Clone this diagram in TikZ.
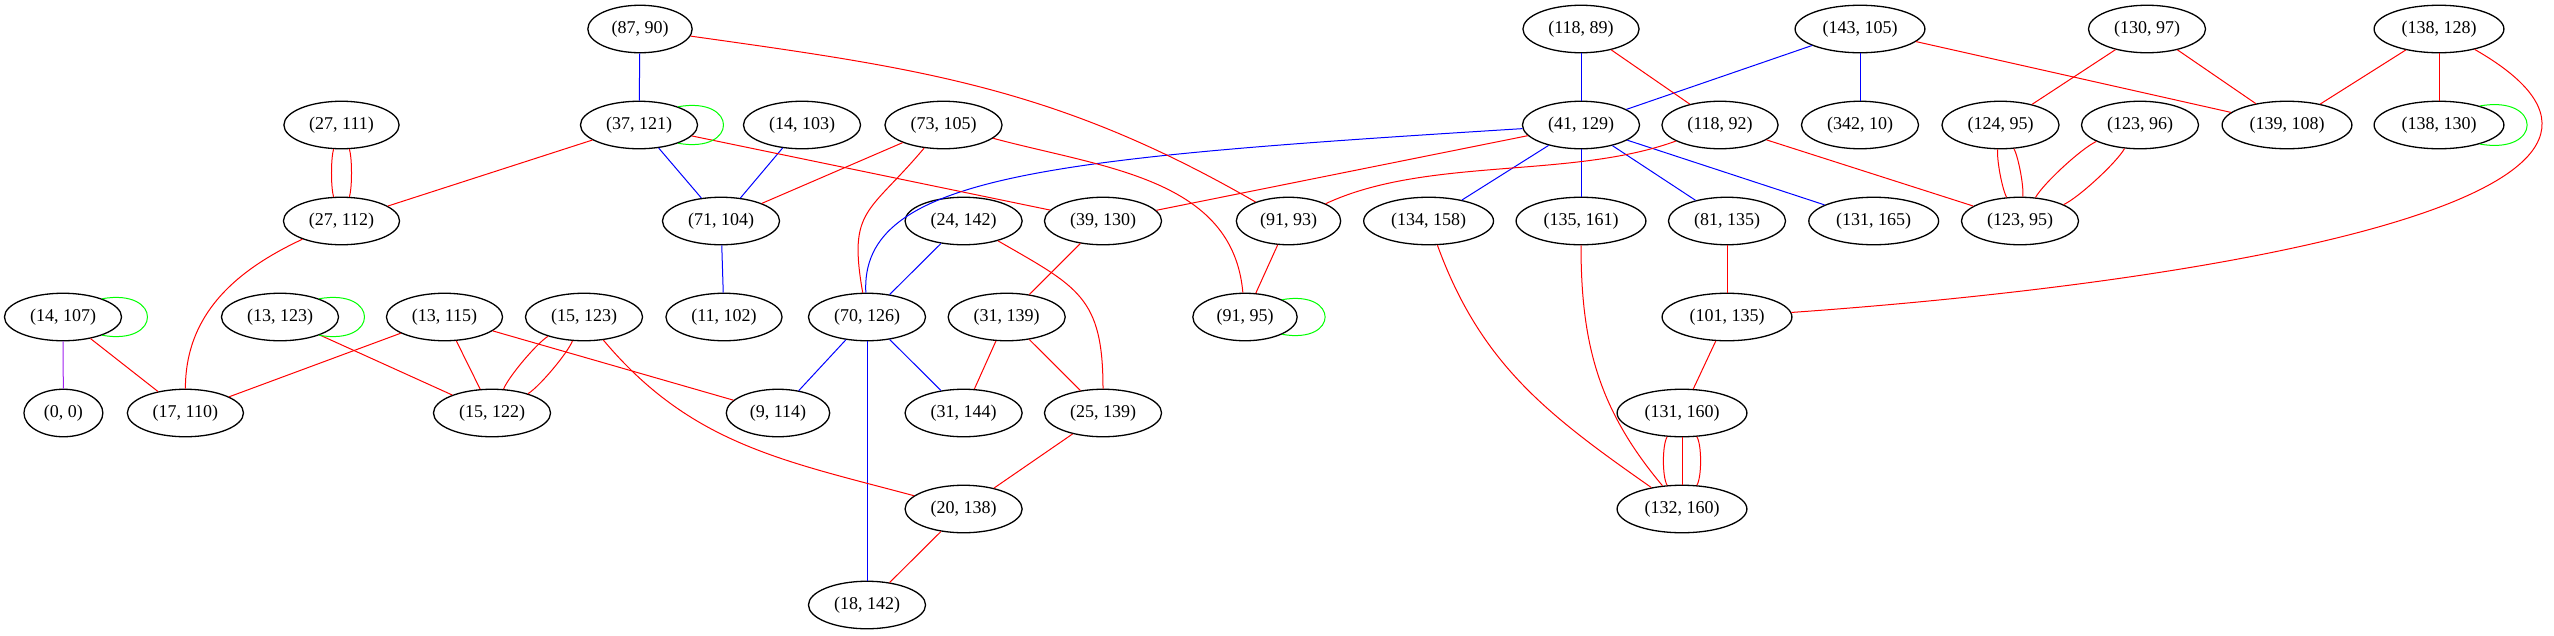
\documentclass[tikz,border=0pt]{standalone}
\usepackage{fontspec}
\setmainfont{Liberation Serif}
\usetikzlibrary{shapes.geometric}
\definecolor{gvpurple}{RGB}{160,32,240}

\begin{document}
\begin{tikzpicture}[x=1pt, y=1pt,
    pair/.style={ellipse, draw, line width=1.3pt, inner xsep=8.4pt, inner ysep=2pt, minimum height=47.5pt, font=\fontsize{18}{20}\selectfont},
    redline/.style={red, line width=1pt},
    blueline/.style={blue, line width=1pt},
    loopline/.style={green, line width=1pt}]
    \useasboundingbox (0, 0) rectangle (2554, -635);

    \node[pair] (87-90) at (640, -29) {(87, 90)};
    \node[pair] (118-89) at (1581, -29) {(118, 89)};
    \node[pair] (143-105) at (1860, -29) {(143, 105)};
    \node[pair] (130-97) at (2147, -29) {(130, 97)};
    \node[pair] (138-128) at (2439, -29) {(138, 128)};

    \node[pair] (27-111) at (341.5, -125) {(27, 111)};
    \node[pair] (37-121) at (639, -125) {(37, 121)};
    \node[pair] (14-103) at (802, -125) {(14, 103)};
    \node[pair] (73-105) at (943.5, -125) {(73, 105)};
    \node[pair] (41-129) at (1581, -125) {(41, 129)};
    \node[pair] (118-92) at (1720, -125) {(118, 92)};
    \node[pair] (342-10) at (1860, -125) {(342, 10)};
    \node[pair] (124-95) at (2000.5, -125) {(124, 95)};
    \node[pair] (123-96) at (2140, -125) {(123, 96)};
    \node[pair] (139-108) at (2287, -125) {(139, 108)};
    \node[pair] (138-130) at (2439, -125) {(138, 130)};

    \node[pair] (27-112) at (341.5, -221) {(27, 112)};
    \node[pair] (71-104) at (721, -221) {(71, 104)};
    \node[pair] (24-142) at (963.6, -221) {(24, 142)};
    \node[pair] (39-130) at (1103, -221) {(39, 130)};
    \node[pair] (91-93) at (1288.5, -221) {(91, 93)};
    \node[pair] (134-158) at (1428.6, -221) {(134, 158)};
    \node[pair] (135-161) at (1581, -221) {(135, 161)};
    \node[pair] (81-135) at (1727, -221) {(81, 135)};
    \node[pair] (131-165) at (1873.7, -221) {(131, 165)};
    \node[pair] (123-95) at (2020, -221) {(123, 95)};

    \node[pair] (14-107) at (63, -317) {(14, 107)};
    \node[pair] (13-123) at (280, -317) {(13, 123)};
    \node[pair] (13-115) at (444.5, -317) {(13, 115)};
    \node[pair] (15-123) at (584, -317) {(15, 123)};
    \node[pair] (11-102) at (724, -317) {(11, 102)};
    \node[pair] (70-126) at (867, -317) {(70, 126)};
    \node[pair] (31-139) at (1006.7, -317) {(31, 139)};
    \node[pair] (91-95) at (1245, -317) {(91, 95)};
    \node[pair] (101-135) at (1727, -317) {(101, 135)};

    \node[pair] (0-0) at (63.4, -413) {(0, 0)};
    \node[pair] (17-110) at (185.4, -413) {(17, 110)};
    \node[pair] (15-122) at (492, -413) {(15, 122)};
    \node[pair] (9-114) at (778, -413) {(9, 114)};
    \node[pair] (31-144) at (963.6, -413) {(31, 144)};
    \node[pair] (25-139) at (1103, -413) {(25, 139)};
    \node[pair] (131-160) at (1682, -413) {(131, 160)};

    \node[pair] (20-138) at (963.6, -509) {(20, 138)};
    \node[pair] (132-160) at (1682, -509) {(132, 160)};

    \node[pair] (18-142) at (867, -605) {(18, 142)};

    \draw[blueline] (87-90) edge (37-121)
          (37-121) edge (71-104)
          (14-103) edge (71-104)
          (71-104) edge (11-102)
          (24-142) edge (70-126)
          (70-126) edge (9-114)
          (70-126) edge (31-144)
          (70-126) edge (18-142)
          (118-89) edge (41-129)
          (143-105) edge (41-129)
          (143-105) edge (342-10)
          (41-129) edge (134-158)
          (41-129) edge (135-161)
          (41-129) edge (81-135)
          (41-129) edge (131-165);
    \draw[blueline] (41-129) .. controls (1050, -158) and (860, -175) .. (70-126);

    \draw[redline] (37-121) edge (27-112)
          (37-121) edge (39-130)
          (73-105) edge (71-104)
          (14-107) edge (17-110)
          (13-123) edge (15-122)
          (13-115) edge (17-110)
          (13-115) edge (15-122)
          (13-115) edge (9-114)
          (41-129) edge (39-130)
          (39-130) edge (31-139)
          (31-139) edge (31-144)
          (31-139) edge (25-139)
          (25-139) edge (20-138)
          (20-138) edge (18-142)
          (91-93) edge (91-95)
          (118-89) edge (118-92)
          (118-92) edge (123-95)
          (143-105) edge (139-108)
          (81-135) edge (101-135)
          (101-135) edge (131-160)
          (130-97) edge (124-95)
          (130-97) edge (139-108)
          (138-128) edge (139-108)
          (138-128) edge (138-130);

    \draw[redline] (87-90) to[out=-8, in=150] (91-93);
    \draw[redline] (73-105) to[out=-130, in=100, looseness=1.4] (70-126);
    \draw[redline] (73-105) to[out=-15, in=95] (91-95);
    \draw[redline] (27-112) to[out=-155, in=90] (17-110);
    \draw[redline] (15-123) to[out=-50, in=165] (20-138);
    \draw[redline] (24-142) to[out=-30, in=90, looseness=1.3] (25-139);
    \draw[redline] (118-92) to[out=-160, in=25, looseness=0.8] (91-93);
    \draw[redline] (134-158) to[out=-70, in=145] (132-160);
    \draw[redline] (135-161) to[out=-90, in=130] (132-160);
    \draw[redline] (138-128) .. controls (2720, -190) and (2250, -280) .. (101-135);

    \draw[redline] (27-111) edge[bend left=18, looseness=0.5] (27-112)
          (27-111) edge[bend right=18, looseness=0.5] (27-112)
          (15-123) edge[bend left=18, looseness=0.5] (15-122)
          (15-123) edge[bend right=18, looseness=0.5] (15-122)
          (124-95) edge[bend left=18, looseness=0.5] (123-95)
          (124-95) edge[bend right=18, looseness=0.5] (123-95)
          (123-96) edge[bend left=18, looseness=0.5] (123-95)
          (123-96) edge[bend right=18, looseness=0.5] (123-95)
          (131-160) edge[bend left=32, looseness=0.5] (132-160)
          (131-160) edge (132-160)
          (131-160) edge[bend right=32, looseness=0.5] (132-160);

    \draw[gvpurple, line width=1pt] (14-107) edge (0-0);

    \draw[loopline] (37-121.25) to[out=10, in=-10, looseness=4.3] (37-121.-25);
    \draw[loopline] (14-107.25) to[out=10, in=-10, looseness=4.3] (14-107.-25);
    \draw[loopline] (13-123.25) to[out=10, in=-10, looseness=4.3] (13-123.-25);
    \draw[loopline] (91-95.25) to[out=10, in=-10, looseness=4.3] (91-95.-25);
    \draw[loopline] (138-130.25) to[out=10, in=-10, looseness=4.3] (138-130.-25);
\end{tikzpicture}
\end{document}
